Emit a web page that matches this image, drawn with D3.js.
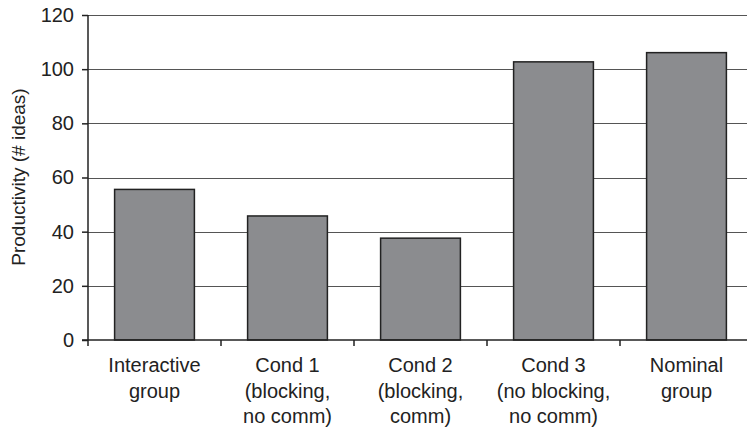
<!DOCTYPE html>
<html><head><meta charset="utf-8">
<script src="https://cdn.jsdelivr.net/npm/d3@7"></script>
<style>body{margin:0;background:#fff}svg{display:block}text{font-family:"Liberation Sans",Arial,sans-serif;fill:#222}</style>
</head><body><svg id="c" width="747" height="428"></svg>
<script>
const categories = [
  ["Interactive","group"],
  ["Cond 1","(blocking,","no comm)"],
  ["Cond 2","(blocking,","comm)"],
  ["Cond 3","(no blocking,","no comm)"],
  ["Nominal","group"]
];
const values = [55.6, 45.8, 37.6, 102.7, 106.1];
const yTicks = [0, 20, 40, 60, 80, 100, 120];
const yLabel = "Productivity (# ideas)";

const svg = d3.select("#c");
const x = d3.scaleBand().domain(d3.range(categories.length)).range([88, 753]).paddingInner(0.4).paddingOuter(0.2);
const y = d3.scaleLinear().domain([0, 120]).range([340, 15]);

// gridlines
svg.append("g").selectAll("line").data(yTicks.filter(d => d > 0)).join("line")
  .attr("x1", 88).attr("x2", 747)
  .attr("y1", d => Math.round(y(d)) + 0.5).attr("y2", d => Math.round(y(d)) + 0.5)
  .attr("stroke", "#555").attr("stroke-width", 1);

// bars
svg.append("g").selectAll("rect").data(values).join("rect")
  .attr("x", (d, i) => x(i)).attr("width", x.bandwidth())
  .attr("y", d => y(d)).attr("height", d => y(0) - y(d))
  .attr("fill", "#8b8c8f").attr("stroke", "#222").attr("stroke-width", 1.5);

// y axis
const ya = svg.append("g").attr("transform", "translate(88,0)")
  .call(d3.axisLeft(y).tickValues(yTicks).tickSize(6).tickPadding(8));
ya.select(".domain").attr("stroke", "#222").attr("stroke-width", 1.5).attr("d", "M0,15V346");
ya.selectAll(".tick line").attr("stroke", "#222").attr("stroke-width", 1.5);
ya.selectAll(".tick text").attr("font-size", 20).attr("fill", "#222").attr("font-family", "Liberation Sans, Arial, sans-serif");

// x axis
const xa = svg.append("g").attr("transform", "translate(0,340)");
xa.append("line").attr("x1", 82).attr("x2", 747).attr("y1", 0).attr("y2", 0).attr("stroke", "#222").attr("stroke-width", 1.5);
const bounds = d3.range(1, categories.length).map(i => x(i) - x.step() * x.paddingInner() / 2);
xa.selectAll("line.tk").data(bounds).join("line").attr("class", "tk")
  .attr("x1", d => d).attr("x2", d => d).attr("y1", 0).attr("y2", 6)
  .attr("stroke", "#222").attr("stroke-width", 1.5);
xa.selectAll("text.lab").data(categories).join("text").attr("class", "lab")
  .attr("text-anchor", "middle").attr("font-size", 20)
  .attr("x", (d, i) => x(i) + x.bandwidth() / 2)
  .each(function(d) {
    d3.select(this).selectAll("tspan").data(d).join("tspan")
      .attr("x", d3.select(this).attr("x"))
      .attr("y", (t, j) => 32 + j * 25.7)
      .text(t => t);
  });

// y label
svg.append("text").attr("transform", "translate(25,177) rotate(-90)")
  .attr("text-anchor", "middle").attr("font-size", 19).text(yLabel);
</script></body></html>
